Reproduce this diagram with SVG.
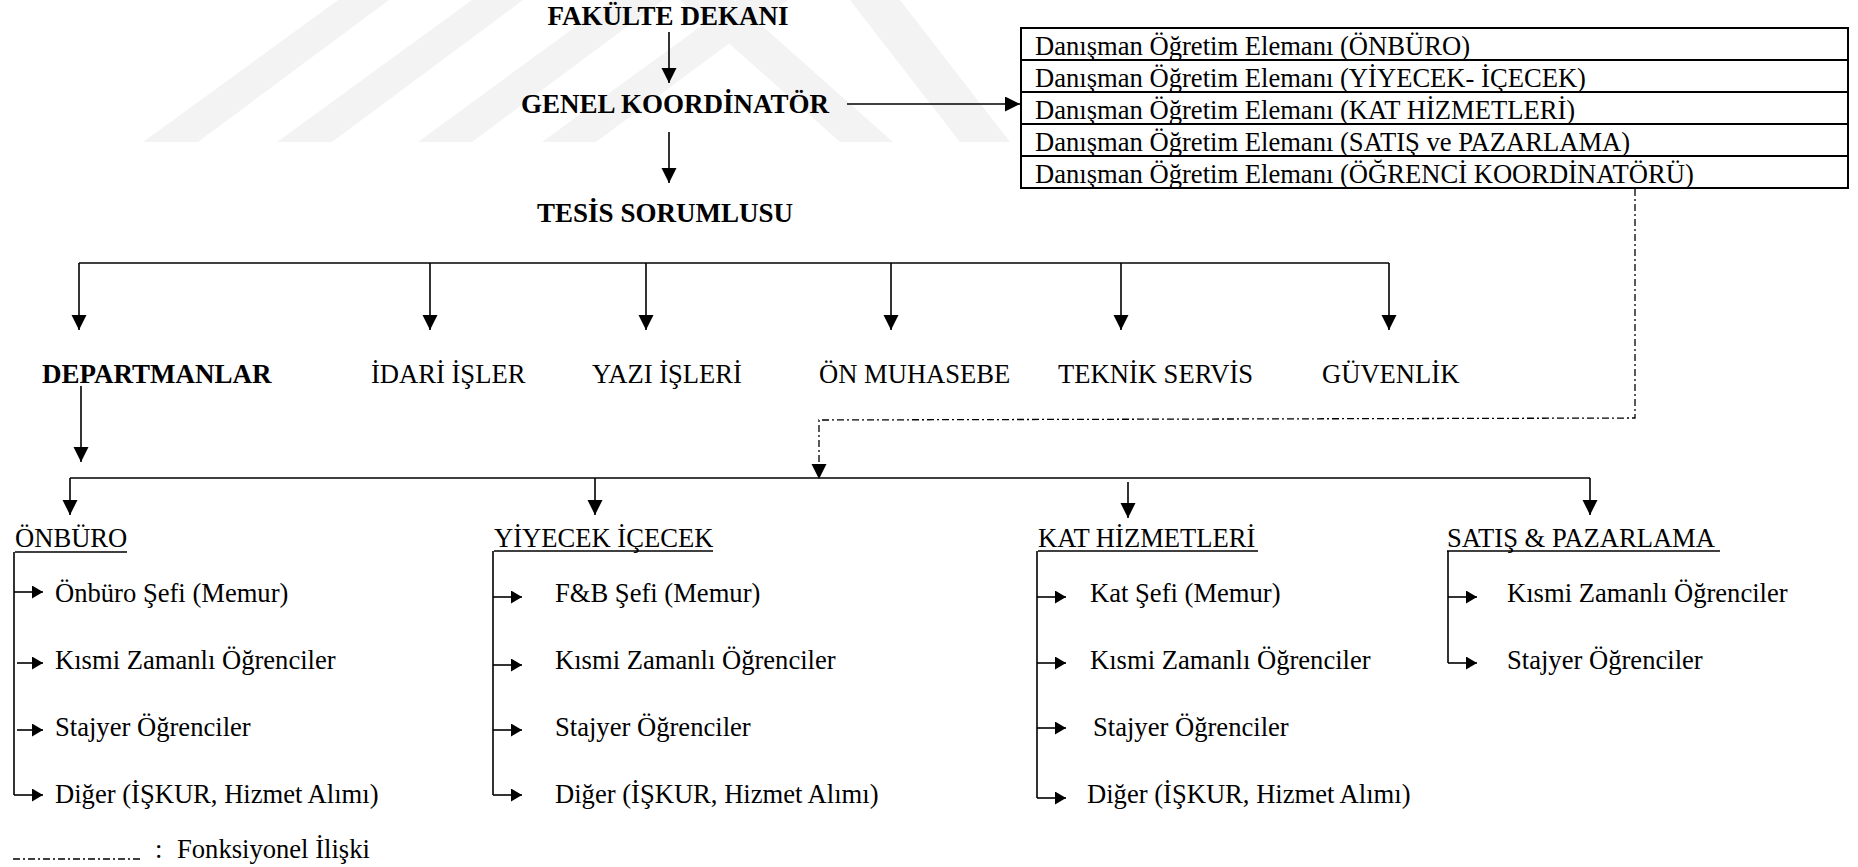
<svg xmlns="http://www.w3.org/2000/svg" width="1858" height="867" viewBox="0 0 1858 867">
  <style>
    text { font-family: "Liberation Serif", "Times New Roman", serif; font-size: 26.6px; fill: #000; }
    .b { font-weight: bold; font-size: 27px; }
    .ln { stroke: #000; stroke-width: 1.6; fill: none; }
    .box { stroke: #000; stroke-width: 2; fill: none; }
    .dd { stroke: #000; stroke-width: 1.3; fill: none; stroke-dasharray: 7 3 2 3; }
    .wm { fill: #f3f3f3; }
  </style>
  <defs>
    <marker id="ah" markerUnits="userSpaceOnUse" markerWidth="16" markerHeight="16" refX="15" refY="7.5" orient="auto">
      <path d="M0,0 L15,7.5 L0,15 z" fill="#000"/>
    </marker>
    <marker id="as" markerUnits="userSpaceOnUse" markerWidth="14" markerHeight="14" refX="11" refY="6.5" orient="auto">
      <path d="M0,0 L11,6.5 L0,13 z" fill="#000"/>
    </marker>
  </defs>
  <rect width="1858" height="867" fill="#fff"/>

  <g id="watermark">
    <polygon class="wm" points="143,142 198,142 389,0 338,0"/>
    <polygon class="wm" points="277,142 332,142 523,0 472,0"/>
    <polygon class="wm" points="418,142 472,142 663,0 612,0"/>
    <polygon class="wm" points="542,142 596,142 788,0 737,0"/>
    <polygon class="wm" points="840,142 893,142 733,0 680,0"/>
    <polygon class="wm" points="960,142 1010,142 900,0 850,0"/>
  </g>

  <g id="connectors">
    <line class="ln" x1="669" y1="32" x2="669" y2="83" marker-end="url(#ah)"/>
    <line class="ln" x1="669" y1="132" x2="669" y2="183" marker-end="url(#ah)"/>
    <line class="ln" x1="847" y1="104" x2="1020" y2="104" marker-end="url(#ah)"/>

    <line class="ln" x1="79" y1="263" x2="1389" y2="263"/>
    <line class="ln" x1="79" y1="263" x2="79" y2="330" marker-end="url(#ah)"/>
    <line class="ln" x1="430" y1="263" x2="430" y2="330" marker-end="url(#ah)"/>
    <line class="ln" x1="646" y1="263" x2="646" y2="330" marker-end="url(#ah)"/>
    <line class="ln" x1="891" y1="263" x2="891" y2="330" marker-end="url(#ah)"/>
    <line class="ln" x1="1121" y1="263" x2="1121" y2="330" marker-end="url(#ah)"/>
    <line class="ln" x1="1389" y1="263" x2="1389" y2="330" marker-end="url(#ah)"/>

    <line class="ln" x1="81" y1="386" x2="81" y2="462" marker-end="url(#ah)"/>

    <polyline class="dd" points="1635,189 1635,418 819,420 819,466"/>
    <path d="M811.5,464 L826.5,464 L819,479 z" fill="#000"/>

    <line class="ln" x1="70" y1="478" x2="1590" y2="478"/>
    <line class="ln" x1="70" y1="478" x2="70" y2="515" marker-end="url(#ah)"/>
    <line class="ln" x1="595" y1="478" x2="595" y2="515" marker-end="url(#ah)"/>
    <line class="ln" x1="1128" y1="482" x2="1128" y2="518" marker-end="url(#ah)"/>
    <line class="ln" x1="1590" y1="478" x2="1590" y2="515" marker-end="url(#ah)"/>

    <!-- ONBURO items -->
    <line class="ln" x1="14" y1="552" x2="14" y2="795"/>
    <line class="ln" x1="14" y1="592" x2="43" y2="592" marker-end="url(#as)"/>
    <line class="ln" x1="17" y1="663" x2="43" y2="663" marker-end="url(#as)"/>
    <line class="ln" x1="17" y1="730" x2="43" y2="730" marker-end="url(#as)"/>
    <line class="ln" x1="14" y1="795" x2="43" y2="795" marker-end="url(#as)"/>

    <!-- YIYECEK items -->
    <line class="ln" x1="493" y1="551" x2="493" y2="795"/>
    <line class="ln" x1="493" y1="597" x2="522" y2="597" marker-end="url(#as)"/>
    <line class="ln" x1="493" y1="665" x2="522" y2="665" marker-end="url(#as)"/>
    <line class="ln" x1="493" y1="730" x2="522" y2="730" marker-end="url(#as)"/>
    <line class="ln" x1="493" y1="795" x2="522" y2="795" marker-end="url(#as)"/>

    <!-- KAT items -->
    <line class="ln" x1="1037" y1="551" x2="1037" y2="798"/>
    <line class="ln" x1="1037" y1="597" x2="1066" y2="597" marker-end="url(#as)"/>
    <line class="ln" x1="1037" y1="663" x2="1066" y2="663" marker-end="url(#as)"/>
    <line class="ln" x1="1037" y1="728" x2="1066" y2="728" marker-end="url(#as)"/>
    <line class="ln" x1="1037" y1="798" x2="1066" y2="798" marker-end="url(#as)"/>

    <!-- SATIS items -->
    <line class="ln" x1="1448" y1="551" x2="1448" y2="663"/>
    <line class="ln" x1="1448" y1="597" x2="1477" y2="597" marker-end="url(#as)"/>
    <line class="ln" x1="1448" y1="663" x2="1477" y2="663" marker-end="url(#as)"/>
  </g>

  <g id="fakulte-dekani"><text class="b" x="668" y="25" text-anchor="middle">FAKÜLTE DEKANI</text></g>
  <g id="genel-koordinator"><text class="b" x="675" y="113" text-anchor="middle">GENEL KOORDİNATÖR</text></g>
  <g id="tesis-sorumlusu"><text class="b" x="665" y="222" text-anchor="middle">TESİS SORUMLUSU</text></g>

  <g id="danisman-kutusu">
    <rect class="box" x="1021" y="28" width="827" height="160"/>
    <line class="box" x1="1021" y1="60" x2="1848" y2="60"/>
    <line class="box" x1="1021" y1="92" x2="1848" y2="92"/>
    <line class="box" x1="1021" y1="124" x2="1848" y2="124"/>
    <line class="box" x1="1021" y1="156" x2="1848" y2="156"/>
    <text x="1035" y="55">Danışman Öğretim Elemanı (ÖNBÜRO)</text>
    <text x="1035" y="87">Danışman Öğretim Elemanı (YİYECEK- İÇECEK)</text>
    <text x="1035" y="119">Danışman Öğretim Elemanı (KAT HİZMETLERİ)</text>
    <text x="1035" y="151">Danışman Öğretim Elemanı (SATIŞ ve PAZARLAMA)</text>
    <text x="1035" y="183">Danışman Öğretim Elemanı (ÖĞRENCİ KOORDİNATÖRÜ)</text>
  </g>

  <g id="departmanlar"><text class="b" x="42" y="383">DEPARTMANLAR</text></g>
  <g id="idari-isler"><text x="371" y="383">İDARİ İŞLER</text></g>
  <g id="yazi-isleri"><text x="592" y="383">YAZI İŞLERİ</text></g>
  <g id="on-muhasebe"><text x="819" y="383">ÖN MUHASEBE</text></g>
  <g id="teknik-servis"><text x="1058" y="383">TEKNİK SERVİS</text></g>
  <g id="guvenlik"><text x="1322" y="383">GÜVENLİK</text></g>

  <g id="onburo">
    <text x="15" y="547">ÖNBÜRO</text>
    <line class="ln" x1="15" y1="552" x2="127" y2="552"/>
    <text x="55" y="602">Önbüro Şefi (Memur)</text>
    <text x="55" y="669">Kısmi Zamanlı Öğrenciler</text>
    <text x="55" y="736">Stajyer Öğrenciler</text>
    <text x="55" y="803">Diğer (İŞKUR, Hizmet Alımı)</text>
  </g>

  <g id="yiyecek-icecek">
    <text x="494" y="547">YİYECEK İÇECEK</text>
    <line class="ln" x1="494" y1="551" x2="713" y2="551"/>
    <text x="555" y="602">F&amp;B Şefi (Memur)</text>
    <text x="555" y="669">Kısmi Zamanlı Öğrenciler</text>
    <text x="555" y="736">Stajyer Öğrenciler</text>
    <text x="555" y="803">Diğer (İŞKUR, Hizmet Alımı)</text>
  </g>

  <g id="kat-hizmetleri">
    <text x="1038" y="547">KAT HİZMETLERİ</text>
    <line class="ln" x1="1038" y1="551" x2="1258" y2="551"/>
    <text x="1090" y="602">Kat Şefi (Memur)</text>
    <text x="1090" y="669">Kısmi Zamanlı Öğrenciler</text>
    <text x="1093" y="736">Stajyer Öğrenciler</text>
    <text x="1087" y="803">Diğer (İŞKUR, Hizmet Alımı)</text>
  </g>

  <g id="satis-pazarlama">
    <text x="1447" y="547">SATIŞ &amp; PAZARLAMA</text>
    <line class="ln" x1="1447" y1="551" x2="1720" y2="551"/>
    <text x="1507" y="602">Kısmi Zamanlı Öğrenciler</text>
    <text x="1507" y="669">Stajyer Öğrenciler</text>
  </g>

  <g id="legend">
    <line class="dd" x1="13" y1="859" x2="140" y2="859"/>
    <text x="155" y="858">:</text>
    <text x="177" y="858">Fonksiyonel İlişki</text>
  </g>
</svg>
